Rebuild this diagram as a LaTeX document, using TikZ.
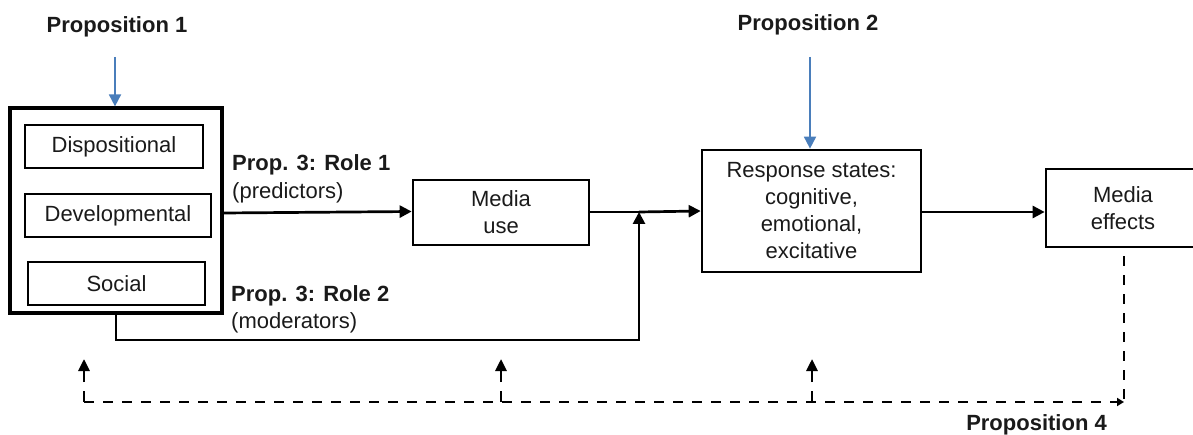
\documentclass[tikz,border=0pt]{standalone}
\usepackage{fontspec}
\setmainfont{Liberation Sans}
\usetikzlibrary{arrows.meta}
\definecolor{propblue}{HTML}{4A7EBB}
\definecolor{ink}{HTML}{1A1A1A}
\begin{document}
\begin{tikzpicture}[x=1pt,y=-1pt,
  font=\fontsize{22}{27}\selectfont, text=ink,
  box/.style={draw=black, line width=2.7pt, inner sep=0pt, align=center},
  outerbox/.style={draw=black, line width=3.2pt, inner sep=0pt},
  innerbox/.style={draw=black, line width=2.6pt, inner sep=0pt, align=center},
  lbl/.style={inner sep=0pt, align=left, anchor=west},
  prop/.style={inner sep=0pt, font=\fontsize{22}{27}\selectfont\bfseries},
  flow/.style={line width=2.7pt, draw=black, -{Triangle[length=12pt,width=12pt]}},
  blueflow/.style={line width=1.8pt, draw=propblue, -{Triangle[length=12pt,width=12pt]}},
  fb/.style={line width=2.8pt, draw=black, dash pattern=on 10pt off 9pt},
  fbup/.style={line width=2.8pt, draw=black, dash pattern=on 11pt off 9pt, -{Triangle[length=12pt,width=11pt]}}
]
\useasboundingbox (0,0) rectangle (1193,435);

% Proposition 1 and the individual differences group
\node[prop] (p1) at (117,27) {Proposition 1};
\node[outerbox, minimum width=212pt, minimum height=205pt] (grp) at (116,210.5) {};
\node[innerbox, minimum width=178pt, minimum height=43pt] (disp) at (114,146.5) {Dispositional};
\node[innerbox, minimum width=186pt, minimum height=43pt] (dev) at (118,215.5) {Developmental};
\node[innerbox, minimum width=177pt, minimum height=43pt] (soc) at (116.5,283.5) {Social};
\coordinate (p1s) at (115,57);
\draw[blueflow] (p1s) -- (grp.north -| p1s);

% Media use
\node[box, minimum width=176pt, minimum height=65pt] (mu) at (501,212.5) {Media\\use};

% Response states
\node[box, minimum width=219pt, minimum height=122pt] (rs) at (811.5,211) {Response states:\\cognitive,\\emotional,\\excitative};
\node[prop] (p2) at (808,25) {Proposition 2};
\coordinate (p2s) at (810,57);
\draw[blueflow] (p2s) -- (rs.north -| p2s);

% Media effects
\node[box, minimum width=154pt, minimum height=78pt] (me) at (1123,208) {Media\\effects};

% Role labels
\node[lbl] (r1a) at (232,165) {\bfseries Prop. 3: Role 1};
\node[lbl] (r1b) at (232,193) {(predictors)};
\node[lbl] (r2a) at (231,296) {\bfseries Prop. 3: Role 2};
\node[lbl] (r2b) at (231,323) {(moderators)};

% main flow
\draw[flow] (grp.east |- 0,213) -- (mu.west |- 0,211.5);
\coordinate (jn) at (639,212);
\draw[line width=2.7pt] (mu.east |- 0,212) -- (jn);
\draw[flow] (jn) -- (rs.west |- 0,211);
\draw[flow] (rs.east |- 0,212) -- (me.west |- 0,212);

% moderators
\coordinate (m1) at (116,340);
\coordinate (m2) at (639,340);
\draw[flow] (grp.south -| m1) -- (m1) -- (m2) -- (jn);

% feedback (Proposition 4)
\coordinate (fbl) at (84,402);
\coordinate (fbc) at (1124,402);
\draw[fb] (me.south -| fbc) ++(0,8) -- (fbc);
\draw[fb, -{Triangle[length=7pt,width=8pt]}] (fbl) -- (fbc);
\coordinate (u1) at (84,359);
\coordinate (u2) at (501,359);
\coordinate (u3) at (812,359);
\draw[fbup] (fbl) -- (u1);
\draw[fbup] (fbl -| u2) -- (u2);
\draw[fbup] (fbl -| u3) -- (u3);
\node[prop, anchor=east] (p4) at (1107,425) {Proposition 4};
\end{tikzpicture}
\end{document}
